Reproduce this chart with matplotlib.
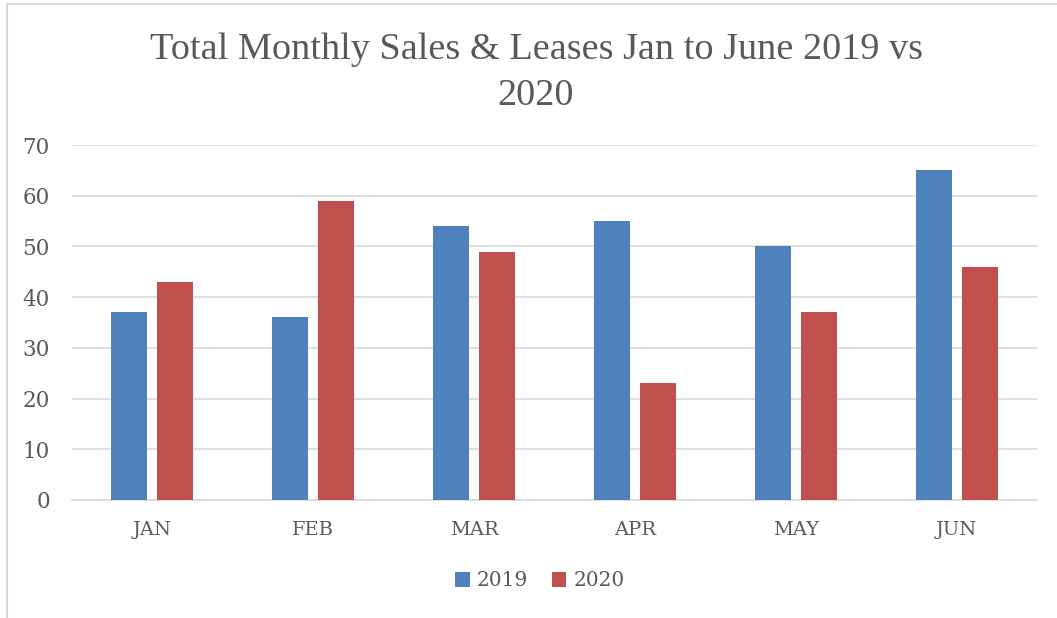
import numpy as np
import matplotlib
matplotlib.use("Agg")
import matplotlib.pyplot as plt
from matplotlib.lines import Line2D

# data
months = ["JAN", "FEB", "MAR", "APR", "MAY", "JUN"]
sales_2019 = [37, 36, 54, 55, 50, 65]
sales_2020 = [43, 59, 49, 23, 37, 46]
series_names = ["2019", "2020"]

blue = "#4f81bd"
red = "#c0504d"
txt = "#595959"

plt.rcParams["font.family"] = ["DejaVu Serif"]

fig = plt.figure(figsize=(10.57, 6.18), dpi=100)
ax = fig.add_axes([72 / 1057, 1 - 500 / 618, (1037 - 72) / 1057, (500 - 145) / 618])

x = np.arange(len(months))
w = 0.224
off = 0.143
ax.bar(x - off, sales_2019, w, color=blue, label=series_names[0], zorder=3)
ax.bar(x + off, sales_2020, w, color=red, label=series_names[1], zorder=3)

ax.set_xlim(-0.5, len(months) - 0.5)
ax.set_ylim(0, 70)
ax.set_yticks(range(0, 71, 10))
ax.set_xticks(x)
ax.set_xticklabels(months)
ax.yaxis.grid(True, color="#d9d9d9", linewidth=1.2, zorder=0)
ax.set_axisbelow(True)
for s in ["top", "right", "left"]:
    ax.spines[s].set_visible(False)
ax.spines["bottom"].set_color("#d9d9d9")
ax.spines["bottom"].set_linewidth(1.2)
ax.tick_params(length=0, labelcolor=txt)
ax.tick_params(axis="y", pad=16, labelsize=15.5)
ax.tick_params(axis="x", pad=15, labelsize=14)

fig.text(536 / 1057, 1 - 73 / 618, "Total Monthly Sales & Leases Jan to June 2019 vs\n2020",
         ha="center", va="center", fontsize=27.5, color=txt,
         family="Liberation Serif", linespacing=1.45)

leg = fig.legend(loc="center", bbox_to_anchor=(540 / 1057, 1 - 581 / 618), ncol=2,
                 frameon=False, handlelength=0.7, handleheight=0.7, handletextpad=0.35,
                 columnspacing=1.2, prop={"size": 14.5})
for t in leg.get_texts():
    t.set_color(txt)

# outer chart border (partly cropped in the reference)
fig.add_artist(Line2D([7 / 1057, 1], [1 - 4 / 618] * 2, color="#d9d9d9", lw=1.5))
fig.add_artist(Line2D([7 / 1057] * 2, [0, 1 - 4 / 618], color="#d9d9d9", lw=1.5))

fig.savefig("out.png", dpi=100, facecolor="white")
